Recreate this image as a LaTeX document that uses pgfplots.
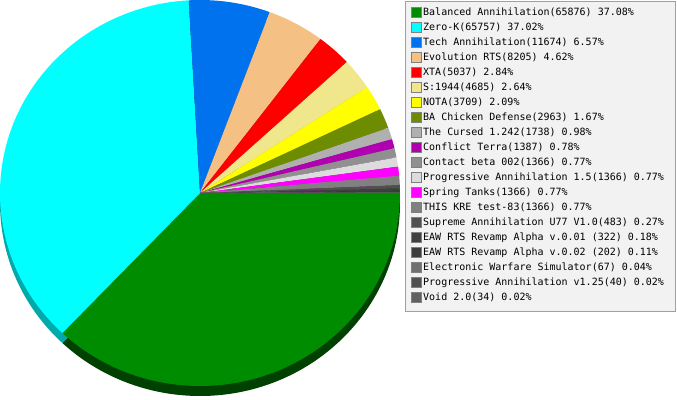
\documentclass[border=0pt]{standalone}
\usepackage{pgfplots}
\pgfplotsset{compat=1.18}
\usepackage{fontspec}
\setmonofont{DejaVu Sans Mono}

\definecolor{c1}{HTML}{008C00}
\definecolor{c2}{HTML}{00FFFF}
\definecolor{c3}{HTML}{0072EE}
\definecolor{c4}{HTML}{F4C084}
\definecolor{c5}{HTML}{FF0000}
\definecolor{c6}{HTML}{F0E68C}
\definecolor{c7}{HTML}{FFFF00}
\definecolor{c8}{HTML}{6E8C00}
\definecolor{c9}{HTML}{B0B0B0}
\definecolor{c10}{HTML}{B000B0}
\definecolor{c11}{HTML}{909090}
\definecolor{c12}{HTML}{DCDCDC}
\definecolor{c13}{HTML}{FF00FF}
\definecolor{c14}{HTML}{808080}
\definecolor{c15}{HTML}{505050}
\definecolor{c16}{HTML}{404040}
\definecolor{c17}{HTML}{3C3C3C}
\definecolor{c18}{HTML}{707070}
\definecolor{c19}{HTML}{505050}
\definecolor{c20}{HTML}{606060}
\definecolor{s1}{HTML}{004000}
\definecolor{s2}{HTML}{00AAAA}
\colorlet{s3}{c3!60!black}
\colorlet{s4}{c4!60!black}
\colorlet{s5}{c5!60!black}
\colorlet{s6}{c6!60!black}
\colorlet{s7}{c7!60!black}
\colorlet{s8}{c8!60!black}
\colorlet{s9}{c9!60!black}
\colorlet{s10}{c10!60!black}
\colorlet{s11}{c11!60!black}
\colorlet{s12}{c12!60!black}
\colorlet{s13}{c13!60!black}
\colorlet{s14}{c1!46!black}
\colorlet{s15}{c1!46!black}
\colorlet{s16}{c1!46!black}
\colorlet{s17}{c1!46!black}
\colorlet{s18}{c1!46!black}
\colorlet{s19}{c1!46!black}
\colorlet{s20}{c1!46!black}
\definecolor{legbg}{HTML}{F2F2F2}
\definecolor{legborder}{HTML}{A0A0A0}

\tikzset{legtext/.style={anchor=base west, inner sep=0pt, font=\ttfamily\fontsize{10bp}{12bp}\selectfont}}

\def\slices{65876/1, 65757/2, 11674/3, 8205/4, 5037/5, 4685/6, 3709/7, 2963/8,
  1738/9, 1387/10, 1366/11, 1366/12, 1366/13, 1366/14, 483/15, 322/16, 202/17,
  67/18, 40/19, 34/20}
\def\total{177643}

\begin{document}
\begin{tikzpicture}
\begin{axis}[at={(0,0)}, anchor=south west,
  width=677bp, height=400bp, scale only axis,
  xmin=0, xmax=677, ymin=0, ymax=400,
  hide axis, clip=false]

% side wall: the same pie, darker, 10px lower
\xdef\acc{0}
\foreach \v/\c in \slices {
  \edef\doit{\noexpand\fill[s\c] (axis cs:200,197) -- ++(\fpeval{-360*\acc/\total}:200bp and 193bp)
    arc[start angle=\fpeval{-360*\acc/\total}, end angle=\fpeval{-360*(\acc+\v)/\total},
        x radius=200bp, y radius=193bp] -- cycle;}
  \doit
  \xdef\acc{\fpeval{\acc+\v}}
}
% top face
\xdef\acc{0}
\foreach \v/\c in \slices {
  \edef\doit{\noexpand\fill[c\c] (axis cs:200,207) -- ++(\fpeval{-360*\acc/\total}:200bp and 193bp)
    arc[start angle=\fpeval{-360*\acc/\total}, end angle=\fpeval{-360*(\acc+\v)/\total},
        x radius=200bp, y radius=193bp] -- cycle;}
  \doit
  \xdef\acc{\fpeval{\acc+\v}}
}

% legend
\draw[legborder, fill=legbg] (axis cs:405.5,399) rectangle (axis cs:675.5,89);
\foreach \c/\t in {
  1/Balanced Annihilation(65876) 37.08\%,
  2/Zero-K(65757) 37.02\%,
  3/Tech Annihilation(11674) 6.57\%,
  4/Evolution RTS(8205) 4.62\%,
  5/XTA(5037) 2.84\%,
  6/S:1944(4685) 2.64\%,
  7/NOTA(3709) 2.09\%,
  8/BA Chicken Defense(2963) 1.67\%,
  9/The Cursed 1.242(1738) 0.98\%,
  10/Conflict Terra(1387) 0.78\%,
  11/Contact beta 002(1366) 0.77\%,
  12/Progressive Annihilation 1.5(1366) 0.77\%,
  13/Spring Tanks(1366) 0.77\%,
  14/THIS KRE test-83(1366) 0.77\%,
  15/Supreme Annihilation U77 V1.0(483) 0.27\%,
  16/EAW RTS Revamp Alpha v.0.01 (322) 0.18\%,
  17/EAW RTS Revamp Alpha v.0.02 (202) 0.11\%,
  18/Electronic Warfare Simulator(67) 0.04\%,
  19/Progressive Annihilation v1.25(40) 0.02\%,
  20/Void 2.0(34) 0.02\%} {
  \edef\doit{\noexpand\filldraw[fill=c\c, draw=c14]
      (axis cs:411,\fpeval{393-15*(\c-1)}) rectangle (axis cs:421,\fpeval{383-15*(\c-1)});
    \noexpand\node[legtext] at (axis cs:423,\fpeval{384.5-15*(\c-1)}) {\t};}
  \doit
}
\end{axis}
\pgfresetboundingbox
\useasboundingbox (0,0) rectangle (677bp,400bp);
\end{tikzpicture}
\end{document}
